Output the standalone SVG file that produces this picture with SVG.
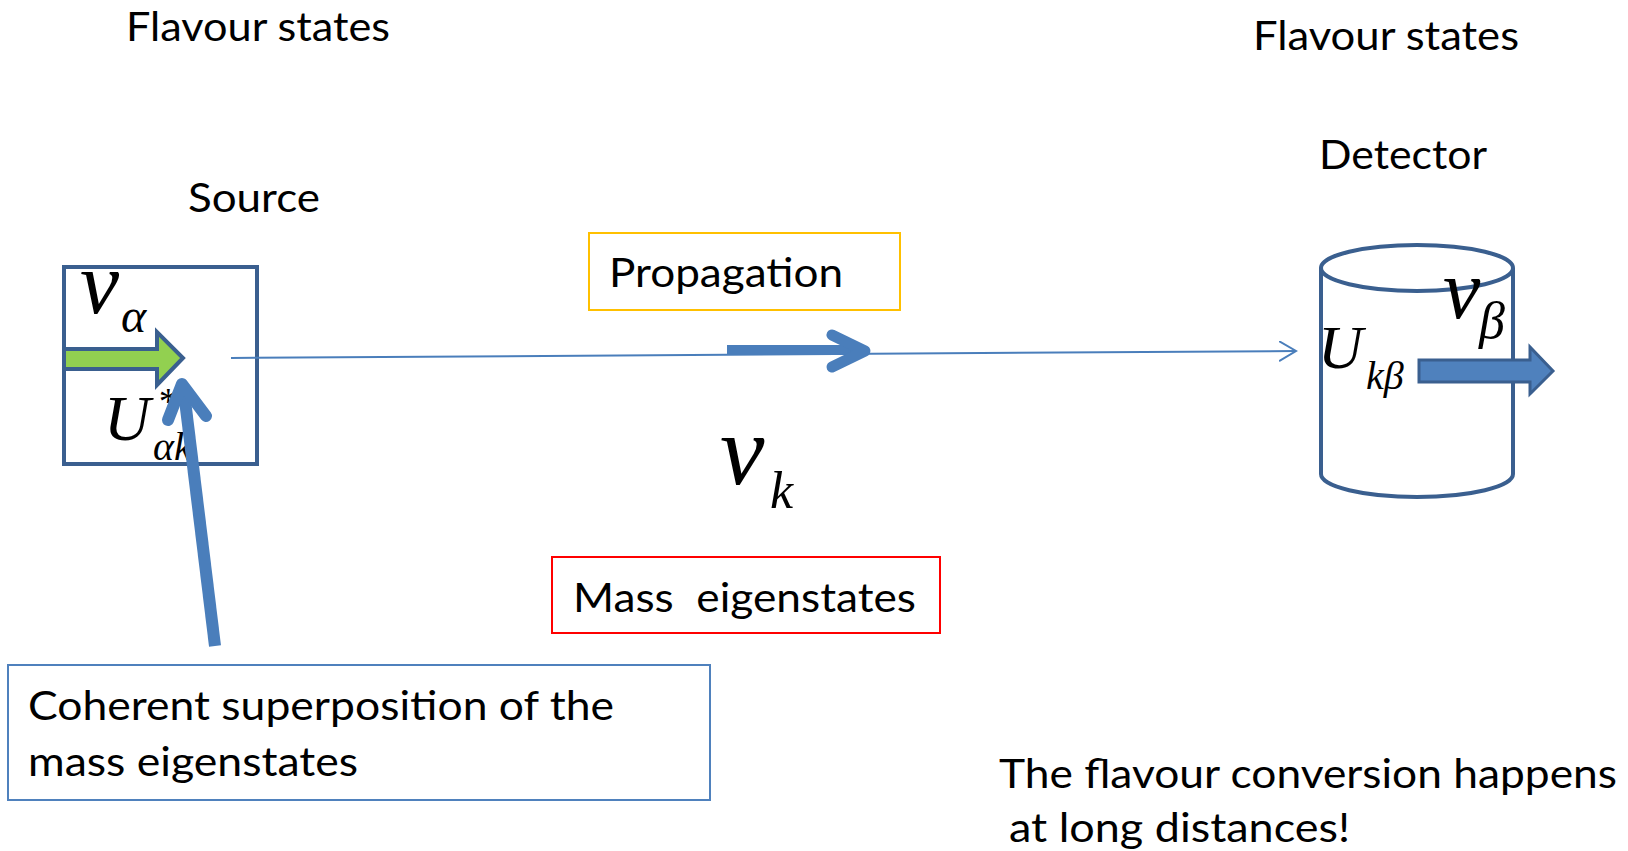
<svg xmlns="http://www.w3.org/2000/svg" width="1628" height="851" viewBox="0 0 1628 851">
<style>
.t{font-family:Lato,"Open Sans",sans-serif;font-size:40px;fill:#000}
.m{font-family:"Liberation Serif","Times New Roman",serif;font-style:italic;fill:#000}
</style>
<defs>
<marker id="open" markerWidth="20" markerHeight="24" refX="17" refY="10" orient="auto" markerUnits="userSpaceOnUse">
<path d="M0,0 L17,10 L0,20" fill="none" stroke="#4A7EBB" stroke-width="2"/>
</marker>
</defs>
<rect width="1628" height="851" fill="#fff"/>

<text class="t" x="126" y="41" textLength="264" lengthAdjust="spacingAndGlyphs">Flavour states</text>
<text class="t" x="1253" y="50" textLength="266" lengthAdjust="spacingAndGlyphs">Flavour states</text>

<g id="source">
<text class="t" x="188" y="212" textLength="132" lengthAdjust="spacingAndGlyphs">Source</text>
<rect x="64" y="267" width="193" height="197" fill="#fff" stroke="#3A5F8F" stroke-width="4"/>
<text class="m" x="80" y="313" font-size="88">ν</text>
<text class="m" x="121" y="332" font-size="48">α</text>
<text class="m" x="104" y="440" font-size="64">U</text>
<text class="m" x="157" y="414" font-size="38">*</text>
<text class="m" x="153" y="460" font-size="40">αk</text>
<path d="M64,349 H157 V332 L183,358 L157,385 V369 H64 Z" fill="#92D050" stroke="#3A5F8F" stroke-width="4" stroke-linejoin="miter"/>
</g>

<g id="detector">
<text class="t" x="1319" y="169" textLength="168" lengthAdjust="spacingAndGlyphs">Detector</text>
<path d="M1321,268 V474 A96,23 0 0 0 1513,474 V268" fill="#fff" stroke="#3A5F8F" stroke-width="4"/>
<ellipse cx="1417" cy="268" rx="96" ry="23" fill="#fff" stroke="#3A5F8F" stroke-width="4"/>
<text class="m" x="1443" y="318" font-size="84">ν</text>
<text class="m" x="1479" y="338" font-size="52">β</text>
<text class="m" x="1318" y="368" font-size="62">U</text>
<text class="m" x="1366" y="389" font-size="40">kβ</text>
<path d="M1419,360 H1530 V347 L1553,371 L1530,394 V382 H1419 Z" fill="#4F81BD" stroke="#3A5F8F" stroke-width="3"/>
</g>

<g id="propagation">
<rect x="589" y="233" width="311" height="77" fill="none" stroke="#FFC000" stroke-width="2"/>
<text class="t" x="609" y="287" textLength="234" lengthAdjust="spacingAndGlyphs">Propagation</text>
</g>

<g id="mass">
<text class="m" x="720" y="484" font-size="100">ν</text>
<text class="m" x="770" y="508" font-size="52">k</text>
<rect x="552" y="557" width="388" height="76" fill="none" stroke="#FF0000" stroke-width="2"/>
<text class="t" x="573" y="612" textLength="343" lengthAdjust="spacingAndGlyphs" xml:space="preserve">Mass  eigenstates</text>
</g>

<g id="coherent">
<rect x="8" y="665" width="702" height="135" fill="none" stroke="#4F81BD" stroke-width="2"/>
<text class="t" x="28" y="720" textLength="586" lengthAdjust="spacingAndGlyphs">Coherent superposition of the</text>
<text class="t" x="28" y="776" textLength="330" lengthAdjust="spacingAndGlyphs">mass eigenstates</text>
</g>

<g id="note">
<text class="t" x="999" y="788" textLength="618" lengthAdjust="spacingAndGlyphs">The flavour conversion happens</text>
<text class="t" x="1009" y="842" textLength="341" lengthAdjust="spacingAndGlyphs">at long distances!</text>
</g>

<g id="connectors">
<line x1="231" y1="358" x2="1296" y2="351" stroke="#4A7EBB" stroke-width="2" marker-end="url(#open)"/>
<path d="M727,350 H862" stroke="#4A7EBB" stroke-width="10"/>
<path d="M832,335 L865,351 L832,367" fill="none" stroke="#4A7EBB" stroke-width="11" stroke-linecap="round" stroke-linejoin="round"/>
<path d="M215,646 L184,392" stroke="#4A7EBB" stroke-width="12"/>
<path d="M168,420 L182,384 L206,416" fill="none" stroke="#4A7EBB" stroke-width="12" stroke-linecap="round" stroke-linejoin="round"/>
</g>
</svg>
